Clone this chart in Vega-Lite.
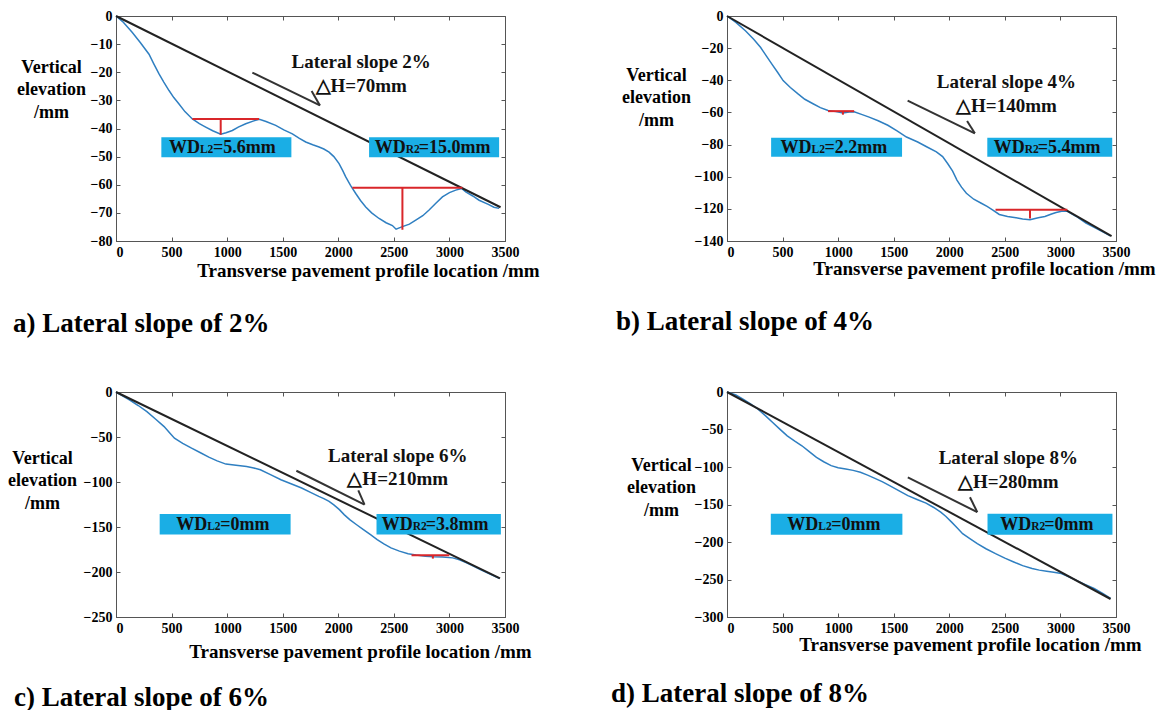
{
  "$schema": "https://vega.github.io/schema/vega-lite/v6.json",
  "padding": {"left": 7, "top": 8, "right": 5, "bottom": 0},
  "background": "white",
  "config": {
    "font": "Liberation Serif",
    "scale": {"continuousPadding": 0},
    "view": {"stroke": "#555", "strokeWidth": 1},
    "axis": {"labelFont": "Liberation Serif", "labelFontWeight": "bold", "labelFontSize": 14, "labelColor": "#000", "titleFont": "Liberation Serif", "titleFontWeight": "bold", "titleColor": "#000", "domainColor": "#555", "tickColor": "#555", "tickSize": -4, "grid": false, "labelPadding": 8, "titleFontSize": 19, "format": "d", "labelFlush": false},
    "axisY": {"titleAngle": 0, "titleAlign": "center", "titleBaseline": "middle", "titleFontSize": 18, "titleLineHeight": 22.5},
    "axisX": {"titleAlign": "center", "titleBaseline": "middle"},
    "title": {"font": "Liberation Serif", "fontSize": 27, "fontWeight": "bold", "color": "#000", "orient": "bottom", "anchor": "start", "frame": "group"}
  },
  "datasets": {
    "prof": [
      {"p":"a","x":0,"y":0},{"p":"a","x":60,"y":-2},{"p":"a","x":147,"y":-5.9},{"p":"a","x":220,"y":-9.5},{"p":"a","x":297,"y":-13.6},{"p":"a","x":340,"y":-17},{"p":"a","x":387,"y":-20.6},{"p":"a","x":430,"y":-23.5},{"p":"a","x":477,"y":-26.5},{"p":"a","x":520,"y":-29},{"p":"a","x":567,"y":-31.3},{"p":"a","x":620,"y":-34},{"p":"a","x":687,"y":-36.6},{"p":"a","x":750,"y":-38.3},{"p":"a","x":807,"y":-39.5},{"p":"a","x":870,"y":-40.8},{"p":"a","x":942,"y":-42},{"p":"a","x":990,"y":-41.5},{"p":"a","x":1047,"y":-40.7},{"p":"a","x":1100,"y":-39.5},{"p":"a","x":1167,"y":-38.3},{"p":"a","x":1240,"y":-37.3},{"p":"a","x":1290,"y":-36.7},{"p":"a","x":1350,"y":-37.5},{"p":"a","x":1437,"y":-38.9},{"p":"a","x":1510,"y":-40.5},{"p":"a","x":1587,"y":-41.9},{"p":"a","x":1650,"y":-43.5},{"p":"a","x":1707,"y":-44.8},{"p":"a","x":1770,"y":-45.8},{"p":"a","x":1827,"y":-46.6},{"p":"a","x":1870,"y":-47.3},{"p":"a","x":1917,"y":-48.4},{"p":"a","x":1960,"y":-50},{"p":"a","x":2007,"y":-52.5},{"p":"a","x":2040,"y":-55},{"p":"a","x":2067,"y":-57.2},{"p":"a","x":2110,"y":-60.2},{"p":"a","x":2157,"y":-63.1},{"p":"a","x":2200,"y":-65.6},{"p":"a","x":2247,"y":-67.9},{"p":"a","x":2300,"y":-70},{"p":"a","x":2367,"y":-72},{"p":"a","x":2430,"y":-73.5},{"p":"a","x":2487,"y":-74.5},{"p":"a","x":2520,"y":-75.8},{"p":"a","x":2577,"y":-74.9},{"p":"a","x":2640,"y":-74},{"p":"a","x":2697,"y":-72.6},{"p":"a","x":2760,"y":-71},{"p":"a","x":2817,"y":-69},{"p":"a","x":2880,"y":-66.5},{"p":"a","x":2937,"y":-64.3},{"p":"a","x":3000,"y":-62.8},{"p":"a","x":3057,"y":-61.9},{"p":"a","x":3110,"y":-61.3},{"p":"a","x":3147,"y":-62.5},{"p":"a","x":3210,"y":-64},{"p":"a","x":3267,"y":-65.5},{"p":"a","x":3350,"y":-67},{"p":"a","x":3400,"y":-68},{"p":"a","x":3447,"y":-68.4},
      {"p":"b","x":0,"y":0},{"p":"b","x":80,"y":-4},{"p":"b","x":168,"y":-9.3},{"p":"b","x":240,"y":-14.5},{"p":"b","x":303,"y":-19.6},{"p":"b","x":355,"y":-25},{"p":"b","x":404,"y":-29.9},{"p":"b","x":455,"y":-35},{"p":"b","x":505,"y":-40.2},{"p":"b","x":570,"y":-44.5},{"p":"b","x":639,"y":-48.5},{"p":"b","x":700,"y":-51.8},{"p":"b","x":774,"y":-54.6},{"p":"b","x":840,"y":-57},{"p":"b","x":909,"y":-58.8},{"p":"b","x":980,"y":-59.5},{"p":"b","x":1043,"y":-60.3},{"p":"b","x":1100,"y":-59.8},{"p":"b","x":1144,"y":-59.6},{"p":"b","x":1210,"y":-61.2},{"p":"b","x":1279,"y":-62.9},{"p":"b","x":1360,"y":-65.2},{"p":"b","x":1447,"y":-68},{"p":"b","x":1530,"y":-71.5},{"p":"b","x":1615,"y":-75.3},{"p":"b","x":1716,"y":-78.4},{"p":"b","x":1800,"y":-81.5},{"p":"b","x":1884,"y":-84.5},{"p":"b","x":1940,"y":-87.5},{"p":"b","x":1985,"y":-91.8},{"p":"b","x":2030,"y":-96.5},{"p":"b","x":2069,"y":-102.1},{"p":"b","x":2110,"y":-106.5},{"p":"b","x":2154,"y":-110.3},{"p":"b","x":2220,"y":-114},{"p":"b","x":2288,"y":-116.5},{"p":"b","x":2340,"y":-118.5},{"p":"b","x":2389,"y":-120.6},{"p":"b","x":2450,"y":-123.5},{"p":"b","x":2524,"y":-124.8},{"p":"b","x":2600,"y":-125.5},{"p":"b","x":2660,"y":-126.3},{"p":"b","x":2726,"y":-126.8},{"p":"b","x":2800,"y":-125.6},{"p":"b","x":2860,"y":-124.8},{"p":"b","x":2920,"y":-123.2},{"p":"b","x":2961,"y":-122.3},{"p":"b","x":3010,"y":-121.5},{"p":"b","x":3062,"y":-121.5},{"p":"b","x":3140,"y":-124.6},{"p":"b","x":3230,"y":-128.9},{"p":"b","x":3330,"y":-132.5},{"p":"b","x":3449,"y":-136.8},
      {"p":"c","x":0,"y":0},{"p":"c","x":124,"y":-8.9},{"p":"c","x":200,"y":-15},{"p":"c","x":278,"y":-21.8},{"p":"c","x":355,"y":-30},{"p":"c","x":433,"y":-38.4},{"p":"c","x":480,"y":-45},{"p":"c","x":526,"y":-51.3},{"p":"c","x":600,"y":-57},{"p":"c","x":680,"y":-62.4},{"p":"c","x":760,"y":-67.5},{"p":"c","x":835,"y":-72.4},{"p":"c","x":910,"y":-76.5},{"p":"c","x":989,"y":-80.1},{"p":"c","x":1080,"y":-81.5},{"p":"c","x":1175,"y":-82.7},{"p":"c","x":1240,"y":-84.5},{"p":"c","x":1299,"y":-86.4},{"p":"c","x":1390,"y":-91.8},{"p":"c","x":1484,"y":-97.5},{"p":"c","x":1580,"y":-102.2},{"p":"c","x":1670,"y":-106.7},{"p":"c","x":1750,"y":-111.5},{"p":"c","x":1824,"y":-116},{"p":"c","x":1870,"y":-118.5},{"p":"c","x":1917,"y":-121.5},{"p":"c","x":1960,"y":-125.5},{"p":"c","x":2010,"y":-130.7},{"p":"c","x":2055,"y":-136.5},{"p":"c","x":2103,"y":-141.8},{"p":"c","x":2165,"y":-147.5},{"p":"c","x":2226,"y":-152.9},{"p":"c","x":2290,"y":-158.5},{"p":"c","x":2350,"y":-164},{"p":"c","x":2410,"y":-168.8},{"p":"c","x":2474,"y":-173.2},{"p":"c","x":2550,"y":-176.8},{"p":"c","x":2628,"y":-179.8},{"p":"c","x":2700,"y":-181.2},{"p":"c","x":2783,"y":-182.4},{"p":"c","x":2860,"y":-183},{"p":"c","x":2937,"y":-183.2},{"p":"c","x":3030,"y":-184.3},{"p":"c","x":3090,"y":-186.5},{"p":"c","x":3154,"y":-189.8},{"p":"c","x":3215,"y":-193.5},{"p":"c","x":3278,"y":-197.2},{"p":"c","x":3360,"y":-202},{"p":"c","x":3447,"y":-207},
      {"p":"d","x":0,"y":0},{"p":"d","x":80,"y":-4},{"p":"d","x":148,"y":-9.7},{"p":"d","x":215,"y":-16},{"p":"d","x":279,"y":-23},{"p":"d","x":345,"y":-31.5},{"p":"d","x":411,"y":-40.7},{"p":"d","x":475,"y":-49.5},{"p":"d","x":542,"y":-58.4},{"p":"d","x":610,"y":-65.5},{"p":"d","x":674,"y":-71.7},{"p":"d","x":740,"y":-79.5},{"p":"d","x":805,"y":-87.2},{"p":"d","x":870,"y":-93},{"p":"d","x":937,"y":-98.2},{"p":"d","x":1000,"y":-101},{"p":"d","x":1068,"y":-102.7},{"p":"d","x":1135,"y":-104.5},{"p":"d","x":1200,"y":-107.1},{"p":"d","x":1265,"y":-110.8},{"p":"d","x":1331,"y":-115.1},{"p":"d","x":1400,"y":-119.8},{"p":"d","x":1463,"y":-124.8},{"p":"d","x":1545,"y":-131.5},{"p":"d","x":1627,"y":-138.1},{"p":"d","x":1710,"y":-143.3},{"p":"d","x":1791,"y":-148.2},{"p":"d","x":1860,"y":-154},{"p":"d","x":1923,"y":-160.2},{"p":"d","x":1970,"y":-166},{"p":"d","x":2021,"y":-173.5},{"p":"d","x":2070,"y":-181},{"p":"d","x":2120,"y":-188.9},{"p":"d","x":2185,"y":-195.5},{"p":"d","x":2252,"y":-202.2},{"p":"d","x":2330,"y":-209},{"p":"d","x":2416,"y":-215.5},{"p":"d","x":2500,"y":-221.5},{"p":"d","x":2580,"y":-226.6},{"p":"d","x":2660,"y":-231.5},{"p":"d","x":2745,"y":-235.4},{"p":"d","x":2810,"y":-237.5},{"p":"d","x":2876,"y":-238.9},{"p":"d","x":2940,"y":-240.3},{"p":"d","x":3008,"y":-242},{"p":"d","x":3070,"y":-246},{"p":"d","x":3139,"y":-250.9},{"p":"d","x":3220,"y":-256.5},{"p":"d","x":3303,"y":-262},{"p":"d","x":3380,"y":-268.5},{"p":"d","x":3451,"y":-275.2}
    ],
    "ref": [
      {"p":"a","x":0,"y":0},{"p":"a","x":3460,"y":-68},
      {"p":"b","x":0,"y":0},{"p":"b","x":3460,"y":-137},
      {"p":"c","x":0,"y":0},{"p":"c","x":3455,"y":-207},
      {"p":"d","x":0,"y":0},{"p":"d","x":3451,"y":-276}
    ],
    "red": [
      {"p":"a","x":687,"x2":1287,"y":-36.6,"y2":-36.6},{"p":"a","x":942,"x2":942,"y":-36.6,"y2":-42.2},
      {"p":"a","x":2127,"x2":3117,"y":-61.1,"y2":-61.1},{"p":"a","x":2577,"x2":2577,"y":-61.1,"y2":-76},
      {"p":"b","x":909,"x2":1144,"y":-59.2,"y2":-59.2},{"p":"b","x":1043,"x2":1043,"y":-59.2,"y2":-61.4},
      {"p":"b","x":2416,"x2":3062,"y":-120.6,"y2":-120.6},{"p":"b","x":2726,"x2":2726,"y":-120.6,"y2":-126},
      {"p":"c","x":2659,"x2":2999,"y":-181.3,"y2":-181.3},{"p":"c","x":2851,"x2":2851,"y":-181.3,"y2":-185.1}
    ],
    "box": [
      {"p":"a","x":408,"x2":1578,"y":-43.1,"y2":-50.2},
      {"p":"a","x":2277,"x2":3447,"y":-43.1,"y2":-50.2},
      {"p":"b","x":397,"x2":1575,"y":-75.7,"y2":-87.6},
      {"p":"b","x":2342,"x2":3466,"y":-75.7,"y2":-87.6},
      {"p":"c","x":393,"x2":1571,"y":-135.5,"y2":-158.4},
      {"p":"c","x":2344,"x2":3463,"y":-135.5,"y2":-158.4},
      {"p":"d","x":394,"x2":1578,"y":-162.4,"y2":-190.3},
      {"p":"d","x":2344,"x2":3468,"y":-162.4,"y2":-190.3}
    ],
    "lab": [
      {"p":"a","x":476,"y":-46.7,"sub":"L2","val":"=5.6mm"},
      {"p":"a","x":2327,"y":-46.7,"sub":"R2","val":"=15.0mm"},
      {"p":"b","x":481,"y":-81.6,"sub":"L2","val":"=2.2mm"},
      {"p":"b","x":2399,"y":-81.6,"sub":"R2","val":"=5.4mm"},
      {"p":"c","x":541,"y":-147,"sub":"L2","val":"=0mm"},
      {"p":"c","x":2390,"y":-147,"sub":"R2","val":"=3.8mm"},
      {"p":"d","x":542,"y":-176.3,"sub":"L2","val":"=0mm"},
      {"p":"d","x":2459,"y":-176.3,"sub":"R2","val":"=0mm"}
    ],
    "ann": [
      {"p":"a","x":2206,"y":-16.5,"t":"Lateral slope 2%"},{"p":"a","x":2206,"y":-24.8,"t":"△H=70mm"},
      {"p":"b","x":2514,"y":-41.2,"t":"Lateral slope 4%"},{"p":"b","x":2514,"y":-56.3,"t":"△H=140mm"},
      {"p":"c","x":2535,"y":-70.9,"t":"Lateral slope 6%"},{"p":"c","x":2535,"y":-96.8,"t":"△H=210mm"},
      {"p":"d","x":2531,"y":-88.5,"t":"Lateral slope 8%"},{"p":"d","x":2531,"y":-120.4,"t":"△H=280mm"}
    ],
    "arrow": [
      {"p":"a","x":1227,"y":-20.1,"x2":1835,"y2":-31.8},{"p":"a","x":1760,"y":-26.7,"x2":1835,"y2":-31.8},
      {"p":"b","x":1625,"y":-52.6,"x2":2230,"y2":-73},{"p":"b","x":2160,"y":-65.3,"x2":2230,"y2":-73},
      {"p":"c","x":1623,"y":-87.5,"x2":2236,"y2":-125.2},{"p":"c","x":2180,"y":-109.3,"x2":2236,"y2":-125.2},
      {"p":"d","x":1627,"y":-113.7,"x2":2252,"y2":-160.2},{"p":"d","x":2186,"y":-140.3,"x2":2252,"y2":-160.2}
    ]
  },
  "bounds": "flush",
  "columns": 2,
  "spacing": {"row": 151, "column": 222},
  "concat": [
    {
      "width": 389, "height": 225,
      "title": {"text": "a) Lateral slope of 2%", "dx": -103, "offset": 31},
      "encoding": {
        "x": {"field": "x", "type": "quantitative", "scale": {"domain": [0, 3500], "nice": false, "zero": false, "padding": 0}, "axis": null},
        "y": {"field": "y", "type": "quantitative", "scale": {"domain": [-80, 0], "nice": false, "zero": false, "padding": 0}, "axis": null}
      },
      "layer": [
        {"data": {"name": "prof"}, "transform": [{"filter": "datum.p=='a'"}], "mark": {"type": "line", "color": "#2f7fc1", "strokeWidth": 1.5},
         "encoding": {
           "x": {"field": "x", "type": "quantitative", "scale": {"domain": [0, 3500], "nice": false, "zero": false, "padding": 0}, "axis": {"values": [0,500,1000,1500,2000,2500,3000,3500], "labelAlign": {"condition": {"test": "datum.value == 0", "value": "left"}, "value": "center"}, "title": "Transverse pavement profile location /mm", "titleX": 252, "titleY": 29}},
           "y": {"field": "y", "type": "quantitative", "scale": {"domain": [-80, 0], "nice": false, "zero": false, "padding": 0}, "axis": {"values": [0,-10,-20,-30,-40,-50,-60,-70,-80], "title": ["Vertical", "elevation", "/mm"], "titleX": -65, "titleY": 51}}}},
        {"data": {"name": "ref"}, "transform": [{"filter": "datum.p=='a'"}], "mark": {"type": "line", "color": "#222", "strokeWidth": 2},
         "encoding": {
           "x": {"field": "x", "type": "quantitative", "scale": {"domain": [0, 3500], "nice": false, "zero": false, "padding": 0}, "axis": {"orient": "top", "labels": false, "title": null, "domain": false, "values": [0,500,1000,1500,2000,2500,3000,3500]}},
           "y": {"field": "y", "type": "quantitative", "scale": {"domain": [-80, 0], "nice": false, "zero": false, "padding": 0}, "axis": {"orient": "right", "labels": false, "title": null, "domain": false, "values": [0,-10,-20,-30,-40,-50,-60,-70,-80]}}}},
        {"data": {"name": "red"}, "transform": [{"filter": "datum.p=='a'"}], "mark": {"type": "rule", "color": "#d9262a", "strokeWidth": 2},
         "encoding": {"x2": {"field": "x2"}, "y2": {"field": "y2"}}},
        {"data": {"name": "box"}, "transform": [{"filter": "datum.p=='a'"}], "mark": {"type": "rect", "color": "#1aaee5"},
         "encoding": {"x2": {"field": "x2"}, "y2": {"field": "y2"}}},
        {"data": {"name": "lab"}, "transform": [{"filter": "datum.p=='a'"}], "mark": {"type": "text", "align": "left", "baseline": "alphabetic", "dy": 6, "fontSize": 18, "fontWeight": "bold", "color": "#111"},
         "encoding": {"text": {"value": "WD"}}},
        {"data": {"name": "lab"}, "transform": [{"filter": "datum.p=='a'"}], "mark": {"type": "text", "align": "left", "baseline": "alphabetic", "dx": 31, "dy": 6, "fontSize": 11.5, "fontWeight": "bold", "color": "#111"},
         "encoding": {"text": {"field": "sub"}}},
        {"data": {"name": "lab"}, "transform": [{"filter": "datum.p=='a'"}], "mark": {"type": "text", "align": "left", "baseline": "alphabetic", "dx": 44, "dy": 6, "fontSize": 18, "fontWeight": "bold", "color": "#111"},
         "encoding": {"text": {"field": "val"}}},
        {"data": {"name": "ann"}, "transform": [{"filter": "datum.p=='a'"}], "mark": {"type": "text", "align": "center", "baseline": "middle", "fontSize": 19, "fontWeight": "bold", "color": "#111"},
         "encoding": {"text": {"field": "t"}}},
        {"data": {"name": "arrow"}, "transform": [{"filter": "datum.p=='a'"}], "mark": {"type": "rule", "color": "#333", "strokeWidth": 2},
         "encoding": {"x2": {"field": "x2"}, "y2": {"field": "y2"}}}
      ],
      "resolve": {"axis": {"x": "independent", "y": "independent"}}
    },
    {
      "width": 389, "height": 225,
      "title": {"text": "b) Lateral slope of 4%", "dx": -111, "offset": 31},
      "encoding": {
        "x": {"field": "x", "type": "quantitative", "scale": {"domain": [0, 3500], "nice": false, "zero": false, "padding": 0}, "axis": null},
        "y": {"field": "y", "type": "quantitative", "scale": {"domain": [-140, 0], "nice": false, "zero": false, "padding": 0}, "axis": null}
      },
      "layer": [
        {"data": {"name": "prof"}, "transform": [{"filter": "datum.p=='b'"}], "mark": {"type": "line", "color": "#2f7fc1", "strokeWidth": 1.5},
         "encoding": {
           "x": {"field": "x", "type": "quantitative", "scale": {"domain": [0, 3500], "nice": false, "zero": false, "padding": 0}, "axis": {"values": [0,500,1000,1500,2000,2500,3000,3500], "labelAlign": {"condition": {"test": "datum.value == 0", "value": "left"}, "value": "center"}, "title": "Transverse pavement profile location /mm", "titleX": 257, "titleY": 27}},
           "y": {"field": "y", "type": "quantitative", "scale": {"domain": [-140, 0], "nice": false, "zero": false, "padding": 0}, "axis": {"values": [0,-20,-40,-60,-80,-100,-120,-140], "title": ["Vertical", "elevation", "/mm"], "titleX": -71, "titleY": 59}}}},
        {"data": {"name": "ref"}, "transform": [{"filter": "datum.p=='b'"}], "mark": {"type": "line", "color": "#222", "strokeWidth": 2},
         "encoding": {
           "x": {"field": "x", "type": "quantitative", "scale": {"domain": [0, 3500], "nice": false, "zero": false, "padding": 0}, "axis": {"orient": "top", "labels": false, "title": null, "domain": false, "values": [0,500,1000,1500,2000,2500,3000,3500]}},
           "y": {"field": "y", "type": "quantitative", "scale": {"domain": [-140, 0], "nice": false, "zero": false, "padding": 0}, "axis": {"orient": "right", "labels": false, "title": null, "domain": false, "values": [0,-20,-40,-60,-80,-100,-120,-140]}}}},
        {"data": {"name": "red"}, "transform": [{"filter": "datum.p=='b'"}], "mark": {"type": "rule", "color": "#d9262a", "strokeWidth": 2},
         "encoding": {"x2": {"field": "x2"}, "y2": {"field": "y2"}}},
        {"data": {"name": "box"}, "transform": [{"filter": "datum.p=='b'"}], "mark": {"type": "rect", "color": "#1aaee5"},
         "encoding": {"x2": {"field": "x2"}, "y2": {"field": "y2"}}},
        {"data": {"name": "lab"}, "transform": [{"filter": "datum.p=='b'"}], "mark": {"type": "text", "align": "left", "baseline": "alphabetic", "dy": 6, "fontSize": 18, "fontWeight": "bold", "color": "#111"},
         "encoding": {"text": {"value": "WD"}}},
        {"data": {"name": "lab"}, "transform": [{"filter": "datum.p=='b'"}], "mark": {"type": "text", "align": "left", "baseline": "alphabetic", "dx": 31, "dy": 6, "fontSize": 11.5, "fontWeight": "bold", "color": "#111"},
         "encoding": {"text": {"field": "sub"}}},
        {"data": {"name": "lab"}, "transform": [{"filter": "datum.p=='b'"}], "mark": {"type": "text", "align": "left", "baseline": "alphabetic", "dx": 44, "dy": 6, "fontSize": 18, "fontWeight": "bold", "color": "#111"},
         "encoding": {"text": {"field": "val"}}},
        {"data": {"name": "ann"}, "transform": [{"filter": "datum.p=='b'"}], "mark": {"type": "text", "align": "center", "baseline": "middle", "fontSize": 19, "fontWeight": "bold", "color": "#111"},
         "encoding": {"text": {"field": "t"}}},
        {"data": {"name": "arrow"}, "transform": [{"filter": "datum.p=='b'"}], "mark": {"type": "rule", "color": "#333", "strokeWidth": 2},
         "encoding": {"x2": {"field": "x2"}, "y2": {"field": "y2"}}}
      ],
      "resolve": {"axis": {"x": "independent", "y": "independent"}}
    },
    {
      "width": 389, "height": 225,
      "title": {"text": "c)  Lateral slope of 6%", "dx": -102, "offset": 24},
      "encoding": {
        "x": {"field": "x", "type": "quantitative", "scale": {"domain": [0, 3500], "nice": false, "zero": false, "padding": 0}, "axis": null},
        "y": {"field": "y", "type": "quantitative", "scale": {"domain": [-250, 0], "nice": false, "zero": false, "padding": 0}, "axis": null}
      },
      "layer": [
        {"data": {"name": "prof"}, "transform": [{"filter": "datum.p=='c'"}], "mark": {"type": "line", "color": "#2f7fc1", "strokeWidth": 1.5},
         "encoding": {
           "x": {"field": "x", "type": "quantitative", "scale": {"domain": [0, 3500], "nice": false, "zero": false, "padding": 0}, "axis": {"values": [0,500,1000,1500,2000,2500,3000,3500], "labelAlign": {"condition": {"test": "datum.value == 0", "value": "left"}, "value": "center"}, "title": "Transverse pavement profile location /mm", "titleX": 244, "titleY": 34}},
           "y": {"field": "y", "type": "quantitative", "scale": {"domain": [-250, 0], "nice": false, "zero": false, "padding": 0}, "axis": {"values": [0,-50,-100,-150,-200,-250], "title": ["Vertical", "elevation", "/mm"], "titleX": -74, "titleY": 66}}}},
        {"data": {"name": "ref"}, "transform": [{"filter": "datum.p=='c'"}], "mark": {"type": "line", "color": "#222", "strokeWidth": 2},
         "encoding": {
           "x": {"field": "x", "type": "quantitative", "scale": {"domain": [0, 3500], "nice": false, "zero": false, "padding": 0}, "axis": {"orient": "top", "labels": false, "title": null, "domain": false, "values": [0,500,1000,1500,2000,2500,3000,3500]}},
           "y": {"field": "y", "type": "quantitative", "scale": {"domain": [-250, 0], "nice": false, "zero": false, "padding": 0}, "axis": {"orient": "right", "labels": false, "title": null, "domain": false, "values": [0,-50,-100,-150,-200,-250]}}}},
        {"data": {"name": "red"}, "transform": [{"filter": "datum.p=='c'"}], "mark": {"type": "rule", "color": "#d9262a", "strokeWidth": 2},
         "encoding": {"x2": {"field": "x2"}, "y2": {"field": "y2"}}},
        {"data": {"name": "box"}, "transform": [{"filter": "datum.p=='c'"}], "mark": {"type": "rect", "color": "#1aaee5"},
         "encoding": {"x2": {"field": "x2"}, "y2": {"field": "y2"}}},
        {"data": {"name": "lab"}, "transform": [{"filter": "datum.p=='c'"}], "mark": {"type": "text", "align": "left", "baseline": "alphabetic", "dy": 6, "fontSize": 18, "fontWeight": "bold", "color": "#111"},
         "encoding": {"text": {"value": "WD"}}},
        {"data": {"name": "lab"}, "transform": [{"filter": "datum.p=='c'"}], "mark": {"type": "text", "align": "left", "baseline": "alphabetic", "dx": 31, "dy": 6, "fontSize": 11.5, "fontWeight": "bold", "color": "#111"},
         "encoding": {"text": {"field": "sub"}}},
        {"data": {"name": "lab"}, "transform": [{"filter": "datum.p=='c'"}], "mark": {"type": "text", "align": "left", "baseline": "alphabetic", "dx": 44, "dy": 6, "fontSize": 18, "fontWeight": "bold", "color": "#111"},
         "encoding": {"text": {"field": "val"}}},
        {"data": {"name": "ann"}, "transform": [{"filter": "datum.p=='c'"}], "mark": {"type": "text", "align": "center", "baseline": "middle", "fontSize": 19, "fontWeight": "bold", "color": "#111"},
         "encoding": {"text": {"field": "t"}}},
        {"data": {"name": "arrow"}, "transform": [{"filter": "datum.p=='c'"}], "mark": {"type": "rule", "color": "#333", "strokeWidth": 2},
         "encoding": {"x2": {"field": "x2"}, "y2": {"field": "y2"}}}
      ],
      "resolve": {"axis": {"x": "independent", "y": "independent"}}
    },
    {
      "width": 389, "height": 225,
      "title": {"text": "d) Lateral slope of 8%", "dx": -116, "offset": 27},
      "encoding": {
        "x": {"field": "x", "type": "quantitative", "scale": {"domain": [0, 3500], "nice": false, "zero": false, "padding": 0}, "axis": null},
        "y": {"field": "y", "type": "quantitative", "scale": {"domain": [-300, 0], "nice": false, "zero": false, "padding": 0}, "axis": null}
      },
      "layer": [
        {"data": {"name": "prof"}, "transform": [{"filter": "datum.p=='d'"}], "mark": {"type": "line", "color": "#2f7fc1", "strokeWidth": 1.5},
         "encoding": {
           "x": {"field": "x", "type": "quantitative", "scale": {"domain": [0, 3500], "nice": false, "zero": false, "padding": 0}, "axis": {"values": [0,500,1000,1500,2000,2500,3000,3500], "labelAlign": {"condition": {"test": "datum.value == 0", "value": "left"}, "value": "center"}, "title": "Transverse pavement profile location /mm", "titleX": 243, "titleY": 27}},
           "y": {"field": "y", "type": "quantitative", "scale": {"domain": [-300, 0], "nice": false, "zero": false, "padding": 0}, "axis": {"values": [0,-50,-100,-150,-200,-250,-300], "title": ["Vertical", "elevation", "/mm"], "titleX": -66, "titleY": 73}}}},
        {"data": {"name": "ref"}, "transform": [{"filter": "datum.p=='d'"}], "mark": {"type": "line", "color": "#222", "strokeWidth": 2},
         "encoding": {
           "x": {"field": "x", "type": "quantitative", "scale": {"domain": [0, 3500], "nice": false, "zero": false, "padding": 0}, "axis": {"orient": "top", "labels": false, "title": null, "domain": false, "values": [0,500,1000,1500,2000,2500,3000,3500]}},
           "y": {"field": "y", "type": "quantitative", "scale": {"domain": [-300, 0], "nice": false, "zero": false, "padding": 0}, "axis": {"orient": "right", "labels": false, "title": null, "domain": false, "values": [0,-50,-100,-150,-200,-250,-300]}}}},
        {"data": {"name": "box"}, "transform": [{"filter": "datum.p=='d'"}], "mark": {"type": "rect", "color": "#1aaee5"},
         "encoding": {"x2": {"field": "x2"}, "y2": {"field": "y2"}}},
        {"data": {"name": "lab"}, "transform": [{"filter": "datum.p=='d'"}], "mark": {"type": "text", "align": "left", "baseline": "alphabetic", "dy": 6, "fontSize": 18, "fontWeight": "bold", "color": "#111"},
         "encoding": {"text": {"value": "WD"}}},
        {"data": {"name": "lab"}, "transform": [{"filter": "datum.p=='d'"}], "mark": {"type": "text", "align": "left", "baseline": "alphabetic", "dx": 31, "dy": 6, "fontSize": 11.5, "fontWeight": "bold", "color": "#111"},
         "encoding": {"text": {"field": "sub"}}},
        {"data": {"name": "lab"}, "transform": [{"filter": "datum.p=='d'"}], "mark": {"type": "text", "align": "left", "baseline": "alphabetic", "dx": 44, "dy": 6, "fontSize": 18, "fontWeight": "bold", "color": "#111"},
         "encoding": {"text": {"field": "val"}}},
        {"data": {"name": "ann"}, "transform": [{"filter": "datum.p=='d'"}], "mark": {"type": "text", "align": "center", "baseline": "middle", "fontSize": 19, "fontWeight": "bold", "color": "#111"},
         "encoding": {"text": {"field": "t"}}},
        {"data": {"name": "arrow"}, "transform": [{"filter": "datum.p=='d'"}], "mark": {"type": "rule", "color": "#333", "strokeWidth": 2},
         "encoding": {"x2": {"field": "x2"}, "y2": {"field": "y2"}}}
      ],
      "resolve": {"axis": {"x": "independent", "y": "independent"}}
    }
  ]
}
